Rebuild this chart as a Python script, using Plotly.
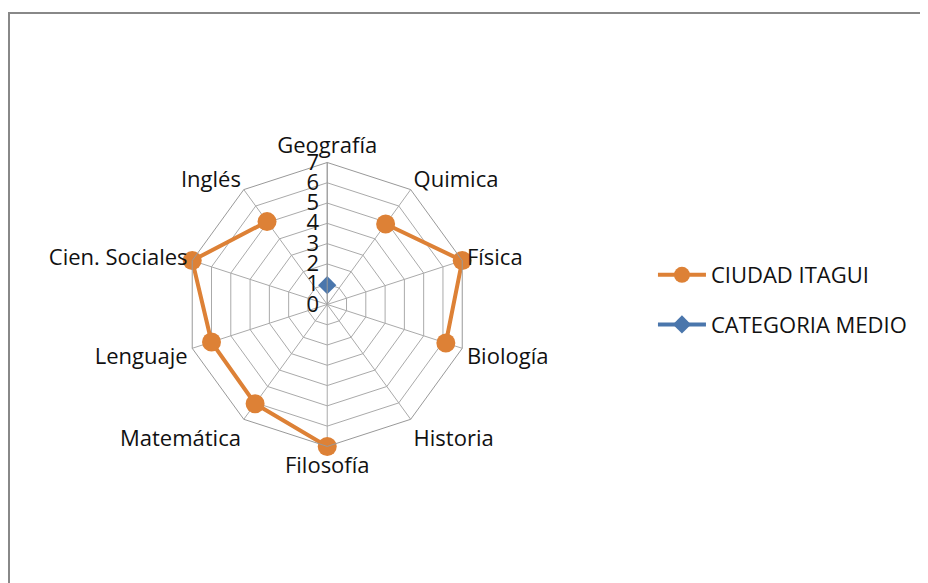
import plotly.graph_objects as go

# Subjects, clockwise from the top
materias = ["Geografía", "Quimica", "Física", "Biología", "Historia",
            "Filosofía", "Matemática", "Lenguaje", "Cien. Sociales", "Inglés"]

# Scores (None = no data, leaves a gap in the line)
ciudad_itagui = [None, 4.9, 7.0, 6.15, None, 7.0, 6.05, 6.0, 7.0, 5.05]
categoria_medio = [0.95, None, None, None, None, None, None, None, None, None]

radial_ticks = [0, 1, 2, 3, 4, 5, 6, 7]

fig = go.Figure()

fig.add_trace(go.Scatterpolar(
    r=ciudad_itagui, theta=materias, name="CIUDAD ITAGUI",
    mode="lines+markers", connectgaps=False, cliponaxis=False,
    legendgroup="a",
    line=dict(color="#DD8136", width=4),
    marker=dict(symbol="circle", size=19, color="#DD8136"),
))
fig.add_trace(go.Scatterpolar(
    r=categoria_medio, theta=materias, name="CATEGORIA MEDIO",
    mode="lines+markers", connectgaps=False, cliponaxis=False,
    legendgroup="b",
    line=dict(color="#4A76AC", width=4),
    marker=dict(symbol="diamond", size=14, color="#4A76AC"),
))

fig.update_layout(
    width=928, height=583,
    margin=dict(l=0, r=0, t=0, b=0),
    paper_bgcolor="white",
    font=dict(family="Open Sans", size=22, color="#111"),
    polar=dict(
        domain=dict(x=[0.191, 0.497], y=[0.248, 0.735]),
        bgcolor="white",
        gridshape="linear",
        radialaxis=dict(range=[0, 7], tickvals=radial_ticks, angle=90,
                        tickangle=90, side="counterclockwise", showline=True,
                        linecolor="#999", linewidth=1, gridcolor="#aaa",
                        gridwidth=1, ticks="", tickfont=dict(size=22)),
        angularaxis=dict(direction="clockwise", rotation=90,
                         linecolor="#999", linewidth=1, gridcolor="#aaa",
                         ticks="", tickfont=dict(size=22)),
    ),
    legend=dict(x=0.695, y=0.578, xanchor="left", yanchor="top",
                font=dict(size=22), tracegroupgap=18, itemwidth=48),
    shapes=[dict(type="rect", xref="paper", yref="paper",
                 x0=1 / 928, x1=1.1, y0=-0.1, y1=1 - 5 / 583,
                 line=dict(color="#888", width=2))],
)

fig.write_html("out.html")
